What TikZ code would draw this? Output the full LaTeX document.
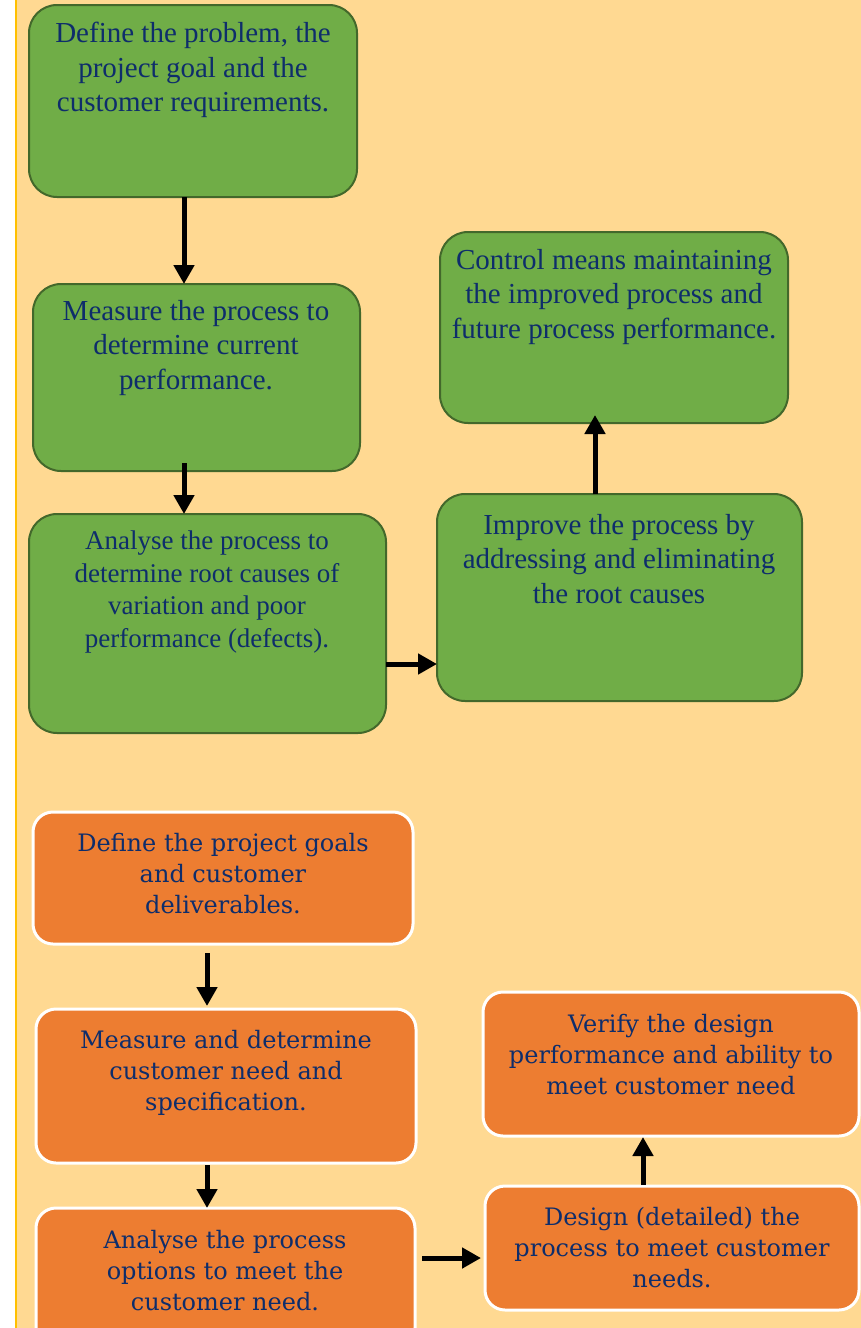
\documentclass[tikz,border=0pt]{standalone}
\usepackage{fontspec}
\setmainfont{Liberation Serif}
\newfontfamily\slabfont{DejaVu Serif}
\usetikzlibrary{arrows.meta}
\definecolor{pagebg}{HTML}{FFD992}
\definecolor{edgegold}{HTML}{FFC000}
\definecolor{greenfill}{HTML}{70AD47}
\definecolor{greenedge}{HTML}{43682B}
\definecolor{orangefill}{HTML}{ED7D31}
\definecolor{navytext}{HTML}{0E2D6B}
\begin{document}
\begin{tikzpicture}[x=1pt,y=-1pt,
  greenbox/.style={draw=greenedge, line width=2pt, fill=greenfill,
    rounded corners=28pt, inner sep=0pt, outer sep=0pt},
  orangebox/.style={draw=white, line width=3pt, fill=orangefill,
    rounded corners=20pt, inner sep=0pt, outer sep=0pt},
  gtext/.style={text=navytext, align=center, inner sep=0pt,
    font=\fontsize{29}{34.5}\selectfont},
  gsmall/.style={gtext, font=\fontsize{27}{32.5}\selectfont},
  otext/.style={text=navytext, align=center, inner sep=0pt,
    font=\slabfont\fontsize{24}{31}\selectfont},
  arr/.style={line width=5pt, -{Triangle[width=20pt,length=19pt]}}]

% page
\useasboundingbox (0,0) rectangle (861,1328);
\fill[white] (0,0) rectangle (861,1328);
\fill[pagebg] (16,0) rectangle (861,1328);
\draw[edgegold, line width=2pt] (15.5,0) -- (15.5,1328);

% DMAIC boxes
\node[greenbox, minimum width=328pt, minimum height=192pt] (d1) at (193,101) {};
\node[greenbox, minimum width=327pt, minimum height=187pt] (m1) at (196.5,377.5) {};
\node[greenbox, minimum width=357pt, minimum height=219pt] (a1) at (207.5,623.5) {};
\node[greenbox, minimum width=365pt, minimum height=207pt] (i1) at (619.5,597.5) {};
\node[greenbox, minimum width=348pt, minimum height=191pt] (c1) at (614,327.5) {};

\node[gtext] (d1t) at (193,70) {Define the problem, the\\project goal and the\\customer requirements.};
\node[gtext] (m1t) at (196,348) {Measure the process to\\determine current\\performance.};
\node[gsmall] (a1t) at (207,592) {Analyse the process to\\determine root causes of\\variation and poor\\performance (defects).};
\node[gtext] (i1t) at (619,559) {Improve the process by\\addressing and eliminating\\the root causes};
\node[gtext] (c1t) at (614,297) {Control means maintaining\\the improved process and\\future process performance.};

\draw[arr] ([xshift=-9pt]d1.south) -- ([xshift=-12.5pt]m1.north);
\draw[arr] ([xshift=-12.5pt,yshift=8pt]m1.south) -- ([xshift=-23.5pt]a1.north);
\draw[arr] ([yshift=-40.5pt]a1.east) -- ([yshift=-66.5pt]i1.west);
\draw[arr] ([xshift=-24.5pt]i1.north) -- ([xshift=-19pt,yshift=8pt]c1.south);

% DMADV boxes
\node[orangebox, minimum width=380pt, minimum height=132pt] (o1) at (223,878) {};
\node[orangebox, minimum width=380pt, minimum height=154pt] (o2) at (226,1086) {};
\node[orangebox, minimum width=379pt, minimum height=140pt] (o3) at (225.5,1278) {};
\node[orangebox, minimum width=376pt, minimum height=144pt] (o4) at (671,1064) {};
\node[orangebox, minimum width=374pt, minimum height=124pt] (o5) at (672,1248) {};

\node[otext] (o1t) at (223,874) {Define the project goals\\and customer\\deliverables.};
\node[otext] (o2t) at (226,1073) {Measure and determine\\customer need and\\specification.};
\node[otext] (o3t) at (225,1271) {Analyse the process\\options to meet the\\customer need.};
\node[otext] (o4t) at (671,1055) {Verify the design\\performance and ability to\\meet customer need};
\node[otext] (o5t) at (672,1248) {Design (detailed) the\\process to meet customer\\needs.};

\draw[arr] ([xshift=-16pt,yshift=-9pt]o1.south) -- ([xshift=-19pt,yshift=3pt]o2.north);
\draw[arr] ([xshift=-19pt,yshift=-2pt]o2.south) -- ([xshift=-18.5pt]o3.north);
\draw[arr] ([xshift=7pt,yshift=20pt]o3.east) -- ([xshift=-4pt,yshift=-10pt]o5.west);
\draw[arr] ([xshift=-29pt,yshift=1pt]o5.north) -- ([xshift=-28pt,yshift=-1pt]o4.south);
\end{tikzpicture}
\end{document}
